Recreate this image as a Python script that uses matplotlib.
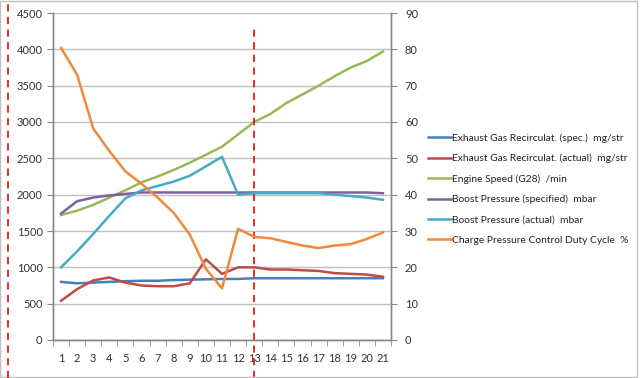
import matplotlib
matplotlib.use("Agg")
import matplotlib.pyplot as plt
from matplotlib.lines import Line2D
from matplotlib.patches import Rectangle
from matplotlib.ticker import MultipleLocator, FixedLocator

categories = list(range(1, 22))
egr_spec = [800, 780, 790, 800, 810, 815, 815, 825, 830, 835, 840, 840, 850, 850, 850, 850, 850, 850, 850, 850, 850]
egr_actual = [540, 700, 820, 860, 790, 750, 740, 740, 780, 1110, 910, 1000, 1000, 970, 970, 960, 950, 920, 910, 900, 870]
engine_speed = [1720, 1780, 1860, 1960, 2060, 2170, 2250, 2340, 2440, 2550, 2660, 2830, 3000, 3110, 3260, 3380, 3500, 3630, 3750, 3840, 3970]
boost_spec = [1740, 1910, 1960, 1990, 2010, 2030, 2030, 2030, 2030, 2030, 2030, 2030, 2030, 2030, 2030, 2030, 2030, 2030, 2030, 2030, 2020]
boost_actual = [1000, 1220, 1460, 1710, 1950, 2060, 2120, 2180, 2260, 2390, 2520, 2000, 2020, 2020, 2020, 2020, 2020, 2000, 1980, 1960, 1930]
duty_cycle = [80.4, 73.0, 58.2, 52.0, 46.4, 43.0, 39.2, 35.0, 29.0, 19.6, 14.2, 30.6, 28.4, 28.0, 27.0, 26.0, 25.3, 26.0, 26.4, 27.8, 29.6]

labels = ["Exhaust Gas Recirculat. (spec.)  mg/str",
          "Exhaust Gas Recirculat. (actual)  mg/str",
          "Engine Speed (G28)  /min",
          "Boost Pressure (specified)  mbar",
          "Boost Pressure (actual)  mbar",
          "Charge Pressure Control Duty Cycle  %"]
colors = ["#4A7EBB", "#BE4B48", "#98B954", "#7D60A0", "#46AAC5", "#F08A3A"]

plt.rcParams['font.family'] = ['Lato', 'DejaVu Sans']
fig = plt.figure(figsize=(6.4, 3.78), dpi=100)
ax = fig.add_axes([53/640, 38/378, (391-53)/640, (340-13)/378])
ax2 = ax.twinx()

series_left = [egr_spec, egr_actual, engine_speed, boost_spec, boost_actual]
handles = []
for s, c, l in zip(series_left, colors[:5], labels[:5]):
    h, = ax.plot(categories, s, color=c, lw=1.8, label=l, zorder=3)
    handles.append(h)
h, = ax2.plot(categories, duty_cycle, color=colors[5], lw=1.8, label=labels[5], zorder=3)
handles.append(h)

ax.set_xlim(0.5, 21.5)
ax.set_ylim(0, 4500)
ax2.set_ylim(0, 90)
ax.yaxis.set_major_locator(MultipleLocator(500))
ax2.yaxis.set_major_locator(MultipleLocator(10))
ax.grid(axis='y', color='#c0c0c0', lw=1)
ax.set_axisbelow(True)

ax.set_xticks(categories)
ax.xaxis.set_minor_locator(FixedLocator([i + 0.5 for i in range(0, 22)]))
ax.tick_params(axis='x', which='major', length=0, pad=9, labelsize=8, colors='#333333')
ax.tick_params(axis='x', which='minor', length=4, color='#888888')
ax.tick_params(axis='y', length=4, color='#888888', labelsize=8, labelcolor='#333333')
ax2.tick_params(axis='y', length=4, color='#888888', labelsize=8, labelcolor='#333333', pad=6)

for a in (ax, ax2):
    a.spines['top'].set_visible(False)
    for sp in ('left', 'right', 'bottom'):
        a.spines[sp].set_color('#888888')
        a.spines[sp].set_linewidth(1)

ax.axvline(13, ymin=-0.116, ymax=0.951, color='#E8191A', lw=1.3, ls=(0, (4, 3)), clip_on=False, zorder=5)

fig.add_artist(Line2D([8/640, 8/640], [0, 1], color='#E8191A', lw=1.3, ls=(0, (4, 3))))
fig.add_artist(Rectangle((0, 1/378), 637/640, 376/378, fill=False, edgecolor='#bfbfbf', lw=1))

leg = fig.legend(handles=handles, labels=labels, loc='upper left', bbox_to_anchor=(428/640, 1 - 133/378),
                 frameon=False, fontsize=7.4, handlelength=2.2, handletextpad=0.15, labelspacing=1.08,
                 borderaxespad=0, borderpad=0)
for t in leg.get_texts():
    t.set_color('#222222')

fig.savefig("out.png", dpi=100)
